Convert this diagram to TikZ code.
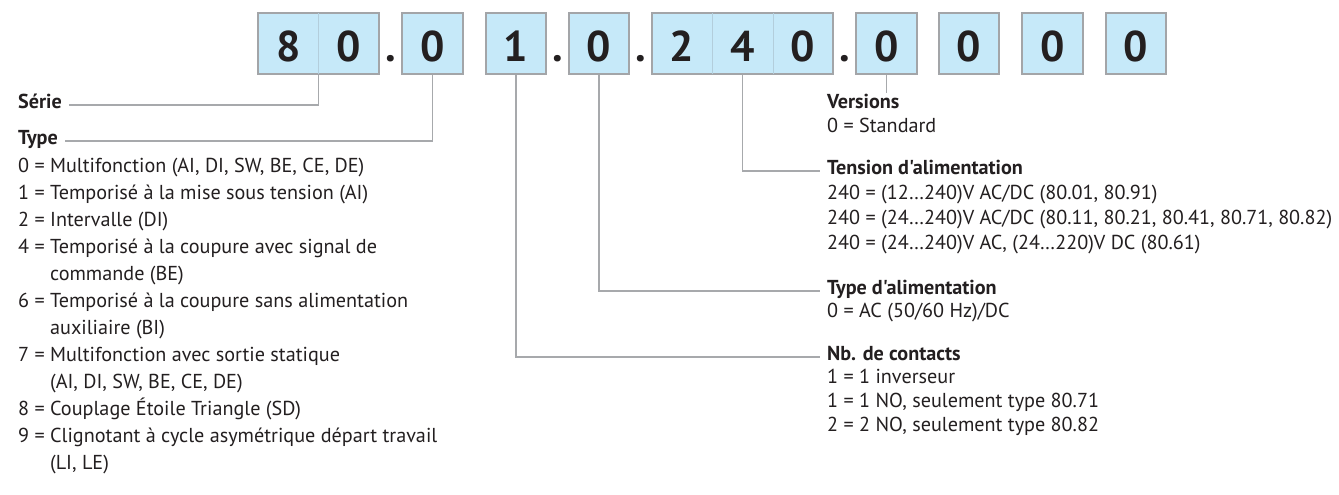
\documentclass[tikz,border=0pt]{standalone}
\usepackage{fontspec}
\setmainfont{PT Sans}[Ligatures=TeXOff]
\definecolor{boxfill}{HTML}{C6E9F9}
\definecolor{boxline}{HTML}{A3A5A8}
\definecolor{divline}{HTML}{B3CEDC}
\definecolor{connc}{HTML}{A7A9AC}
\definecolor{txt}{HTML}{231F20}
\newlength\refw
\newcommand\txtf{\fontsize{\fsz pt}{\fsz pt}\selectfont}
\begin{document}
\settowidth\refw{\fontsize{10pt}{12pt}\selectfont 240 = (24…240)V AC/DC (80.11, 80.21, 80.41, 80.71, 80.82)}%
\pgfmathsetmacro\fsz{5050/\refw}%
\begin{tikzpicture}[x=1pt,y=-1pt,
  grp/.style={draw=boxline, line width=1.4pt, fill=boxfill, minimum height=61pt, inner sep=0pt},
  dig/.style={anchor=base, inner sep=0pt, font=\fontsize{43pt}{43pt}\selectfont\bfseries, text=txt},
  divl/.style={draw=divline, line width=0.8pt, shorten >=0.8pt, shorten <=0.8pt},
  conn/.style={draw=connc, line width=1.2pt},
  head/.style={anchor=west, inner sep=0pt, text height=0.7em, text depth=0pt, font=\txtf\bfseries, text=txt},
  item/.style={anchor=west, inner sep=0pt, text height=0.7em, text depth=0pt, font=\txtf, text=txt}]
\useasboundingbox (0,0) rectangle (1339,495);
\fill[white] (0,0) rectangle (1339,495);
% code boxes
\node[grp, minimum width=121pt] (g1) at (318.5,43.5) {};
\node[grp, minimum width=61pt] (g2) at (432.5,43.5) {};
\node[grp, minimum width=60pt] (g3) at (516,43.5) {};
\node[grp, minimum width=60pt] (g4) at (599,43.5) {};
\node[grp, minimum width=181pt] (g5) at (742.5,43.5) {};
\node[grp, minimum width=61pt] (g6) at (886.5,43.5) {};
\node[grp, minimum width=60pt] (g7) at (969,43.5) {};
\node[grp, minimum width=61pt] (g8) at (1052.5,43.5) {};
\node[grp, minimum width=60pt] (g9) at (1136,43.5) {};
\draw[divl] (g1.north) -- (g1.south);
\draw[divl] ([xshift=-30.5pt]g5.north) -- ([xshift=-30.5pt]g5.south);
\draw[divl] ([xshift=30.5pt]g5.north) -- ([xshift=30.5pt]g5.south);
% digits
\node[dig] (d1) at (288.5,62) {8};
\node[dig] (d2) at (349,62) {0};
\node[dig] (d3) at (432.5,62) {0};
\node[dig] (d4) at (516,62) {1};
\node[dig] (d5) at (599,62) {0};
\node[dig] (d6) at (682,62) {2};
\node[dig] (d7) at (742.5,62) {4};
\node[dig] (d8) at (803,62) {0};
\node[dig] (d9) at (886.5,62) {0};
\node[dig] (d10) at (969,62) {0};
\node[dig] (d11) at (1052.5,62) {0};
\node[dig] (d12) at (1136,62) {0};
\node[dig] (p1) at (391,62) {.};
\node[dig] (p2) at (558,62) {.};
\node[dig] (p3) at (641,62) {.};
\node[dig] (p4) at (845,62) {.};
% left column
\node[head] (hserie) at (18,105) {Série};
\node[head] (htype) at (18,141) {Type};
\node[item] (t0) at (18,169) {0 = Multifonction (AI, DI, SW, BE, CE, DE)};
\node[item] (t1) at (18,196) {1 = Temporisé à la mise sous tension (AI)};
\node[item] (t2) at (18,223) {2 = Intervalle (DI)};
\node[item] (t3) at (18,250) {4 = Temporisé à la coupure avec signal de};
\node[item] (t4) at (18,277) {\hphantom{4 = }commande (BE)};
\node[item] (t5) at (18,304) {6 = Temporisé à la coupure sans alimentation};
\node[item] (t6) at (18,331) {\hphantom{6 = }auxiliaire (BI)};
\node[item] (t7) at (18,358) {7 = Multifonction avec sortie statique};
\node[item] (t8) at (18,385) {\hphantom{7 = }(AI, DI, SW, BE, CE, DE)};
\node[item] (t9) at (18,412) {8 = Couplage Étoile Triangle (SD)};
\node[item] (t10) at (18,439) {9 = Clignotant à cycle asymétrique départ travail};
\node[item] (t11) at (18,466) {\hphantom{9 = }(LI, LE)};
% right column
\node[head] (hvers) at (827,105) {Versions};
\node[item] (v0) at (827,129) {0 = Standard};
\node[head] (htens) at (827,171) {Tension d'alimentation};
\node[item] (e0) at (827,196) {240 = (12…240)V AC/DC (80.01, 80.91)};
\node[item] (e1) at (827,221) {240 = (24…240)V AC/DC (80.11, 80.21, 80.41, 80.71, 80.82)};
\node[item] (e2) at (827,246) {240 = (24…240)V AC, (24…220)V DC (80.61)};
\node[head] (htypea) at (827,291) {Type d'alimentation};
\node[item] (a0) at (827,314) {0 = AC (50/60 Hz)/DC};
\node[head] (hnb) at (827,357) {Nb. de contacts};
\node[item] (n0) at (827,380) {1 = 1 inverseur};
\node[item] (n1) at (827,404) {1 = 1 NO, seulement type 80.71};
\node[item] (n2) at (827,428) {2 = 2 NO, seulement type 80.82};
% connectors
\coordinate (vend) at (886.5,93);
\draw[conn] ([xshift=7pt]hserie.east) -| (g1.south);
\draw[conn] ([xshift=7pt]htype.east) -| (g2.south);
\draw[conn] (g6.south) -- (vend);
\draw[conn] (g5.south) |- ([xshift=-7pt]htens.west);
\draw[conn] (g4.south) |- ([xshift=-7pt]htypea.west);
\draw[conn] (g3.south) |- ([xshift=-7pt]hnb.west);
\end{tikzpicture}
\end{document}
